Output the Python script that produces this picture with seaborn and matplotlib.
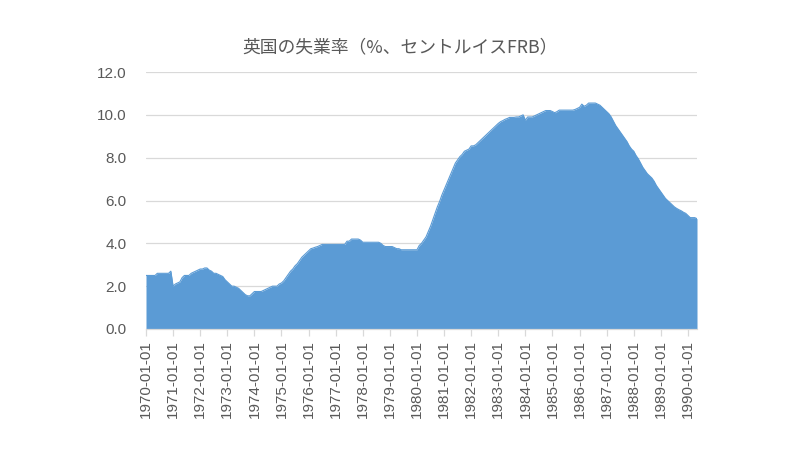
import numpy as np
import pandas as pd
import matplotlib
matplotlib.use("Agg")
import matplotlib.pyplot as plt
import seaborn as sns

title = "英国の失業率（%、セントルイスFRB）"
start_year = 1970

v1970 = [2.5, 2.5, 2.5, 2.5, 2.5, 2.6, 2.6, 2.6, 2.6, 2.6, 2.6, 2.7]
v1971 = [2.0, 2.1, 2.15, 2.2, 2.4, 2.5, 2.5, 2.5, 2.6, 2.65, 2.7, 2.75]
v1972 = [2.8, 2.8, 2.85, 2.85, 2.75, 2.7, 2.6, 2.6, 2.55, 2.5, 2.45, 2.3]
v1973 = [2.2, 2.1, 2.0, 2.0, 1.95, 1.9, 1.8, 1.7, 1.6, 1.55, 1.55, 1.65]
v1974 = [1.75, 1.75, 1.75, 1.75, 1.8, 1.85, 1.9, 1.95, 2.0, 2.0, 2.0, 2.1]
v1975 = [2.15, 2.25, 2.4, 2.55, 2.7, 2.8, 2.95, 3.05, 3.2, 3.35, 3.45, 3.55]
v1976 = [3.65, 3.75, 3.78, 3.82, 3.85, 3.9, 3.95, 3.95, 3.95, 3.95, 3.95, 3.95]
v1977 = [3.95, 3.95, 3.95, 3.95, 3.95, 4.1, 4.1, 4.2, 4.2, 4.2, 4.2, 4.15]
v1978 = [4.05, 4.05, 4.05, 4.05, 4.05, 4.05, 4.05, 4.05, 4.0, 3.9, 3.85, 3.85]
v1979 = [3.85, 3.85, 3.8, 3.75, 3.75, 3.7, 3.7, 3.7, 3.7, 3.7, 3.7, 3.7]
v1980 = [3.7, 3.9, 4.0, 4.15, 4.3, 4.55, 4.8, 5.1, 5.4, 5.7, 5.95, 6.25]
v1981 = [6.5, 6.75, 7.0, 7.25, 7.5, 7.75, 7.9, 8.05, 8.15, 8.3, 8.35, 8.4]
v1982 = [8.55, 8.55, 8.6, 8.7, 8.8, 8.9, 9.0, 9.1, 9.2, 9.3, 9.4, 9.5]
v1983 = [9.6, 9.68, 9.73, 9.79, 9.83, 9.88, 9.88, 9.88, 9.9, 9.9, 9.95, 10.0]
v1984 = [9.75, 9.9, 9.9, 9.9, 9.95, 10.0, 10.05, 10.1, 10.15, 10.2, 10.2, 10.2]
v1985 = [10.15, 10.1, 10.15, 10.22, 10.22, 10.22, 10.22, 10.22, 10.22, 10.22, 10.25, 10.3]
v1986 = [10.35, 10.5, 10.4, 10.45, 10.55, 10.55, 10.55, 10.55, 10.5, 10.45, 10.35, 10.25]
v1987 = [10.15, 10.05, 9.9, 9.7, 9.5, 9.35, 9.2, 9.05, 8.9, 8.75, 8.55, 8.4]
v1988 = [8.3, 8.1, 7.95, 7.75, 7.55, 7.4, 7.25, 7.15, 7.05, 6.9, 6.7, 6.55]
v1989 = [6.4, 6.25, 6.1, 6.0, 5.9, 5.8, 5.7, 5.63, 5.57, 5.52, 5.45, 5.4]
v1990 = [5.3, 5.2, 5.2, 5.2, 5.15]

rates = (v1970 + v1971 + v1972 + v1973 + v1974 + v1975 + v1976 + v1977 + v1978
         + v1979 + v1980 + v1981 + v1982 + v1983 + v1984 + v1985 + v1986 + v1987
         + v1988 + v1989 + v1990)
dates = pd.date_range(f"{start_year}-01-01", periods=len(rates), freq="MS")
tick_labels = [d.strftime("%Y-%m-%d") for d in dates if d.month == 1]

df = pd.DataFrame({"idx": np.arange(len(rates)), "rate": rates})

sns.set_theme(style="white")
plt.rcParams["font.family"] = ["Noto Sans CJK JP", "DejaVu Sans"]

fig = plt.figure(figsize=(8, 4.5), dpi=100)
ax = fig.add_axes([146 / 800, 1 - 329 / 450, (697 - 146) / 800, (329 - 72) / 450])

color = "#5B9BD5"
ax.fill_between(df["idx"], 0, df["rate"], color=color, linewidth=0, zorder=2)
sns.lineplot(data=df, x="idx", y="rate", ax=ax, color=color, linewidth=0.8, zorder=3)

ax.set_xlim(0, len(rates) - 1)
ax.set_ylim(0, 12)
ax.set_yticks(np.arange(0, 12.1, 2))
ax.set_yticklabels([f"{v:.1f}" for v in np.arange(0, 12.1, 2)],
                   fontsize=11, color="#595959", family=["Liberation Sans", "DejaVu Sans"])
ax.set_xticks(np.arange(0, len(rates), 12))
ax.set_xticklabels(tick_labels, rotation=90, fontsize=11, color="#595959",
                   family=["Liberation Sans", "DejaVu Sans"])
ax.set_xlabel("")
ax.set_ylabel("")

ax.yaxis.grid(True, color="#D9D9D9", linewidth=0.9, zorder=0)
ax.set_axisbelow(True)
for s in ["top", "right", "left"]:
    ax.spines[s].set_visible(False)
ax.spines["bottom"].set_color("#D9D9D9")
ax.spines["bottom"].set_linewidth(0.9)
ax.spines["bottom"].set_zorder(4)
ax.tick_params(axis="y", length=0, pad=14)
ax.tick_params(axis="x", length=5, width=0.9, color="#D9D9D9", pad=3, bottom=True)

fig.text(0.5, 1 - 47 / 450, title, ha="center", va="center", fontsize=12.8, color="#595959")

fig.savefig("out.png", dpi=100, facecolor="white")
